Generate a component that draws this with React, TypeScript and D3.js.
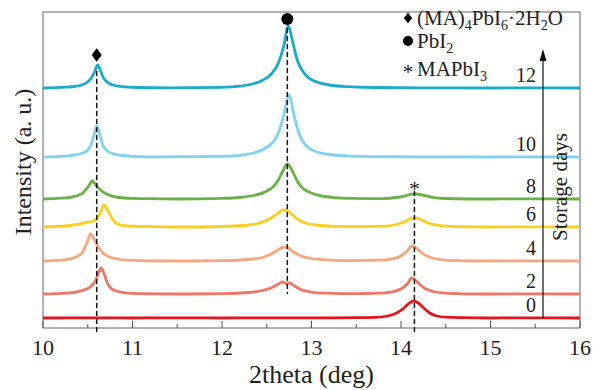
import React, { useEffect, useRef } from 'react';
import * as d3 from 'd3';

// storage days, one trace each (bottom to top)
const days = [0, 2, 4, 6, 8, 10, 12];
const offsets = [10, 34, 67, 101, 129, 171, 240];
const colors = ['#e8141c', '#f07668', '#f8a67e', '#f9cf20', '#6bb145', '#80d3ef', '#19aacc'];

// [2theta, intensity above the trace's own baseline]
const day0: [number, number][] = [
  [10, 0], [10.5, 0.2], [11, 0], [11.5, 0.2], [12, 0], [12.5, 0.2], [13, 0.2], [13.5, 0.3],
  [13.7, 0.6], [13.85, 2], [13.95, 5], [14.02, 9], [14.08, 14], [14.14, 17], [14.2, 14.5],
  [14.26, 9.5], [14.32, 5], [14.4, 2], [14.5, 0.8], [14.7, 0.3], [15, 0], [15.5, 0.2], [16, 0],
];
const day2: [number, number][] = [
  [10, 0], [10.25, 0.8], [10.38, 2.2], [10.47, 4.5], [10.54, 8], [10.59, 14], [10.62, 21],
  [10.65, 26], [10.68, 21], [10.71, 13], [10.75, 6.5], [10.82, 3], [10.92, 1.2], [11.1, 0.4],
  [11.5, 0], [12, 0.4], [12.3, 1.5], [12.45, 3.5], [12.56, 6.5], [12.63, 10], [12.68, 12],
  [12.72, 10.5], [12.76, 11], [12.81, 8], [12.88, 4.5], [12.98, 2.2], [13.15, 0.8], [13.5, 0.3],
  [13.75, 0.8], [13.9, 2.2], [14.0, 5], [14.07, 10], [14.12, 16], [14.16, 14], [14.21, 9.5],
  [14.28, 5], [14.36, 2.5], [14.5, 0.8], [14.7, 0.2], [15, 0], [15.5, 0.2], [16, 0],
];
const day4: [number, number][] = [
  [10, 0], [10.2, 0.8], [10.3, 2], [10.38, 4.5], [10.44, 8.5], [10.49, 18], [10.53, 27],
  [10.57, 22], [10.62, 13.5], [10.67, 8], [10.73, 4.5], [10.83, 2], [10.95, 0.8], [11.2, 0.2],
  [11.5, 0], [12, 0.4], [12.3, 1.5], [12.45, 3.5], [12.56, 7.5], [12.64, 12], [12.7, 14],
  [12.75, 12.5], [12.8, 9], [12.87, 5.5], [12.97, 3], [13.15, 1.2], [13.4, 0.4], [13.75, 0.8],
  [13.9, 2.2], [14.0, 5], [14.07, 10], [14.12, 15], [14.16, 13.5], [14.22, 9], [14.29, 5],
  [14.37, 2.5], [14.5, 0.8], [14.7, 0.2], [15, 0], [15.5, 0.2], [16, 0],
];
const day6: [number, number][] = [
  [10, 0], [10.25, 1], [10.38, 2.5], [10.48, 4.5], [10.55, 5.5], [10.6, 8], [10.64, 14],
  [10.68, 22], [10.72, 17], [10.76, 10.5], [10.8, 5], [10.86, 2.2], [10.95, 1], [11.2, 0.3],
  [11.5, 0], [12, 0.5], [12.25, 1.5], [12.4, 3.5], [12.51, 7], [12.59, 11.5], [12.65, 15.5],
  [12.69, 17], [12.74, 16], [12.79, 12], [12.85, 7.5], [12.93, 4], [13.05, 2], [13.25, 0.7],
  [13.6, 0.3], [13.8, 0.8], [13.95, 2.5], [14.05, 5.5], [14.11, 8.5], [14.16, 9], [14.22, 7.5],
  [14.3, 4], [14.4, 1.8], [14.55, 0.6], [14.8, 0.2], [15, 0], [15.5, 0.2], [16, 0],
];
const day8: [number, number][] = [
  [10, 0], [10.2, 0.8], [10.3, 1.5], [10.38, 3.2], [10.45, 6.5], [10.51, 13], [10.55, 18],
  [10.59, 14], [10.63, 10], [10.68, 6.5], [10.75, 3.5], [10.85, 1.5], [11, 0.6], [11.3, 0.2],
  [11.5, 0], [12, 0.6], [12.2, 1.5], [12.35, 3.5], [12.48, 7], [12.57, 12], [12.63, 19],
  [12.68, 28], [12.73, 35], [12.78, 29], [12.84, 18], [12.9, 11], [12.97, 7], [13.07, 3.8],
  [13.23, 1.6], [13.45, 0.6], [13.8, 0.4], [13.95, 1.5], [14.05, 3.2], [14.12, 4.8],
  [14.17, 5], [14.25, 3.8], [14.35, 1.6], [14.5, 0.5], [15, 0], [15.5, 0.2], [16, 0],
];
const day10: [number, number][] = [
  [10, 0], [10.25, 0.8], [10.35, 1.8], [10.43, 3.5], [10.5, 7], [10.54, 13], [10.57, 22],
  [10.6, 31], [10.63, 24], [10.66, 14], [10.7, 7.5], [10.76, 4], [10.85, 2], [11, 0.7],
  [11.3, 0.2], [12, 0.6], [12.2, 1.6], [12.35, 4], [12.47, 8], [12.56, 14], [12.63, 24],
  [12.69, 42], [12.75, 62], [12.8, 44], [12.85, 26], [12.9, 16], [12.97, 9], [13.06, 5],
  [13.2, 2.5], [13.4, 1.1], [13.7, 0.4], [14.2, 0.2], [15, 0], [15.5, 0.2], [16, 0],
];
const day12: [number, number][] = [
  [10, 0], [10.25, 0.8], [10.35, 1.5], [10.43, 3], [10.49, 5.5], [10.54, 10], [10.58, 17],
  [10.61, 23], [10.64, 18], [10.67, 11], [10.71, 6.5], [10.78, 3], [10.88, 1.4], [11.05, 0.5],
  [11.4, 0.2], [12, 0.6], [12.2, 1.8], [12.34, 4], [12.46, 8], [12.55, 14], [12.63, 25],
  [12.69, 42], [12.74, 62], [12.79, 46], [12.84, 28], [12.9, 17], [12.97, 10], [13.06, 6],
  [13.2, 3], [13.4, 1.3], [13.7, 0.5], [14.2, 0.2], [15, 0], [15.5, 0.2], [16, 0],
];
const traces = [day0, day2, day4, day6, day8, day10, day12];

// reference peak positions (deg)
const peakHydrate = 10.6;
const peakPbI2 = 12.73;
const peakMAPbI3 = 14.15;

const xTicks = [10, 11, 12, 13, 14, 15, 16];
const xMinorTicks = [10.5, 11.5, 12.5, 13.5, 14.5, 15.5];

const FONT = '"Liberation Serif", "Times New Roman", serif';

export default function App() {
  const svgRef = useRef<SVGSVGElement>(null);
  const width = 595;
  const height = 390;

  useEffect(() => {
    if (!svgRef.current) return;
    const svg = d3.select(svgRef.current);
    svg.selectAll('*').remove();

    const margin = { top: 12, right: 15, bottom: 62, left: 43 };
    const x = d3.scaleLinear().domain([10, 16]).range([margin.left, width - margin.right]);
    const y = d3.scaleLinear().domain([0, 316]).range([height - margin.bottom, margin.top]);
    const y0 = height - margin.bottom;

    // frame
    svg.append('rect')
      .attr('x', margin.left)
      .attr('y', margin.top)
      .attr('width', width - margin.left - margin.right)
      .attr('height', height - margin.top - margin.bottom)
      .attr('fill', 'none')
      .attr('stroke', '#666')
      .attr('stroke-width', 1);

    // ticks pointing inward
    svg.append('g').selectAll('line').data(xTicks).join('line')
      .attr('x1', d => x(d)).attr('x2', d => x(d))
      .attr('y1', y0).attr('y2', y0 - 7)
      .attr('stroke', '#555');
    svg.append('g').selectAll('line').data(xMinorTicks).join('line')
      .attr('x1', d => x(d)).attr('x2', d => x(d))
      .attr('y1', y0).attr('y2', y0 - 4)
      .attr('stroke', '#555');

    svg.append('g').selectAll('text').data(xTicks).join('text')
      .attr('x', d => x(d))
      .attr('y', y0 + 27)
      .attr('text-anchor', 'middle')
      .attr('font-family', FONT)
      .attr('font-size', 22)
      .attr('fill', '#222')
      .text(d => d);

    svg.append('text')
      .attr('x', (x(10) + x(16)) / 2)
      .attr('y', height - 7)
      .attr('text-anchor', 'middle')
      .attr('font-family', FONT)
      .attr('font-size', 26)
      .attr('fill', '#222')
      .text('2theta (deg)');

    svg.append('text')
      .attr('transform', `translate(31,${(margin.top + y0) / 2 - 8}) rotate(-90)`)
      .attr('text-anchor', 'middle')
      .attr('font-family', FONT)
      .attr('font-size', 24)
      .attr('fill', '#222')
      .text('Intensity (a. u.)');

    // traces
    const line = d3.line<[number, number]>().curve(d3.curveMonotoneX);
    traces.forEach((pts, i) => {
      svg.append('path')
        .attr('d', line.x(d => x(d[0])).y(d => y(d[1] + offsets[i]))(pts))
        .attr('fill', 'none')
        .attr('stroke', colors[i])
        .attr('stroke-width', 2.8)
        .attr('stroke-linejoin', 'round');
    });

    // dashed peak guides
    const guides = [
      { pos: peakHydrate, top: y(offsets[6] + 23) + 6, bottom: y0 + 6 },
      { pos: peakPbI2, top: y(offsets[6] + 62) + 2, bottom: y(offsets[1]) },
      { pos: peakMAPbI3, top: y(offsets[4] + 5) - 3, bottom: y0 + 6 },
    ];
    svg.append('g').selectAll('line').data(guides).join('line')
      .attr('x1', d => x(d.pos)).attr('x2', d => x(d.pos))
      .attr('y1', d => d.top).attr('y2', d => d.bottom)
      .attr('stroke', '#111')
      .attr('stroke-width', 1.5)
      .attr('stroke-dasharray', '5 3');

    // peak markers
    const dia = d3.symbol().type(d3.symbolDiamond2).size(90);
    svg.append('path')
      .attr('d', dia())
      .attr('transform', `translate(${x(peakHydrate)},${y(offsets[6] + 23) - 10}) scale(0.85,1.15)`)
      .attr('fill', '#000');
    svg.append('circle')
      .attr('cx', x(peakPbI2))
      .attr('cy', y(offsets[6] + 62) - 7)
      .attr('r', 6)
      .attr('fill', '#000');
    svg.append('text')
      .attr('x', x(peakMAPbI3))
      .attr('y', y(offsets[4] + 5) + 2)
      .attr('text-anchor', 'middle')
      .attr('font-family', FONT)
      .attr('font-size', 22)
      .attr('fill', '#222')
      .text('*');

    // day labels
    svg.append('g').selectAll('text').data(days).join('text')
      .attr('x', 536)
      .attr('y', (d, i) => y(offsets[i]) - 6)
      .attr('text-anchor', 'end')
      .attr('font-family', FONT)
      .attr('font-size', 20)
      .attr('fill', '#222')
      .text(d => d);

    // storage days arrow
    const ax = 543;
    svg.append('line')
      .attr('x1', ax).attr('x2', ax)
      .attr('y1', y(offsets[0]) + 1).attr('y2', 58)
      .attr('stroke', '#111').attr('stroke-width', 1.2);
    svg.append('path')
      .attr('d', `M${ax},49 L${ax - 3.5},61 L${ax + 3.5},61 Z`)
      .attr('fill', '#111');
    svg.append('text')
      .attr('transform', `translate(567,187) rotate(-90)`)
      .attr('text-anchor', 'middle')
      .attr('font-family', FONT)
      .attr('font-size', 21)
      .attr('fill', '#222')
      .text('Storage days');

    // legend
    const lg = svg.append('g').attr('font-family', FONT).attr('font-size', 21).attr('fill', '#222');
    const lx = 408;
    lg.append('path')
      .attr('d', d3.symbol().type(d3.symbolDiamond2).size(60)())
      .attr('transform', `translate(${lx},18) scale(0.85,1.15)`)
      .attr('fill', '#000');
    const t1 = lg.append('text').attr('x', lx + 9).attr('y', 25);
    t1.append('tspan').text('(MA)');
    t1.append('tspan').attr('font-size', 14).attr('dy', 5).text('4');
    t1.append('tspan').attr('dy', -5).text('PbI');
    t1.append('tspan').attr('font-size', 14).attr('dy', 5).text('6');
    t1.append('tspan').attr('dy', -5).text('·2H');
    t1.append('tspan').attr('font-size', 14).attr('dy', 5).text('2');
    t1.append('tspan').attr('dy', -5).text('O');

    lg.append('circle').attr('cx', lx).attr('cy', 41).attr('r', 5).attr('fill', '#000');
    const t2 = lg.append('text').attr('x', lx + 9).attr('y', 48);
    t2.append('tspan').text('PbI');
    t2.append('tspan').attr('font-size', 14).attr('dy', 5).text('2');

    lg.append('text').attr('x', lx).attr('y', 79).attr('text-anchor', 'middle').text('*');
    const t3 = lg.append('text').attr('x', lx + 9).attr('y', 76);
    t3.append('tspan').text('MAPbI');
    t3.append('tspan').attr('font-size', 14).attr('dy', 5).text('3');
  }, []);

  return (
    <svg
      ref={svgRef}
      width={width}
      height={height}
      style={{ position: 'absolute', left: 0, top: 0, background: '#fff' }}
    />
  );
}
